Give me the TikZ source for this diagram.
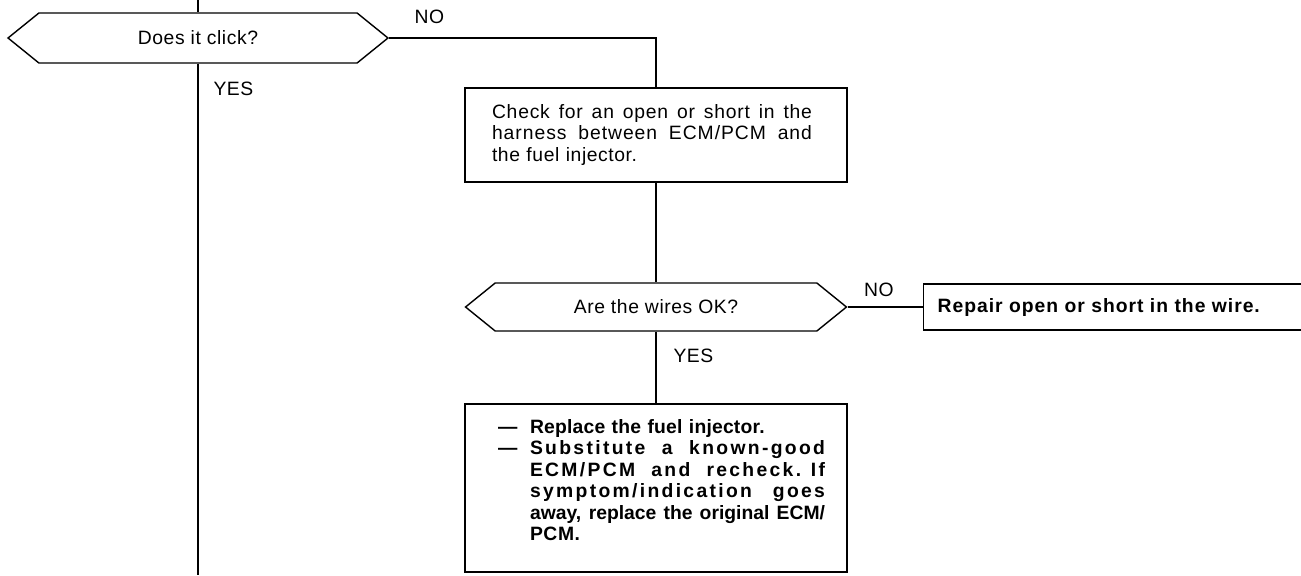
\documentclass[tikz,border=0pt]{standalone}
\usepackage{fontspec}
\setmainfont{Liberation Sans}[LetterSpace=3]
\usetikzlibrary{shapes.symbols}
\newcommand{\spreadline}[3]{\makebox[#1][s]{\addfontfeature{LetterSpace=#2}\spaceskip=\fontdimen2\font plus 1fill\relax #3}}

\begin{document}
\begin{tikzpicture}[x=0.02cm, y=-0.02cm, line width=0.6pt, font=\fontsize{11}{12.2}\selectfont,
  query/.style={draw, line width=0.8pt, signal, signal to=west and east, signal pointer angle=78, inner sep=0pt, minimum width=7.6cm, minimum height=1cm, fill=white},
  stepbox/.style={draw, line width=0.8pt, rectangle, inner sep=0pt, fill=white},
  answer/.style={inner sep=0pt}]
\useasboundingbox (0,0) rectangle (1301,575);
\coordinate (top) at (198,0);
\coordinate (end) at (198,575);
\node[query] (click) at (198,38) {Does it click?};
\node[stepbox, minimum width=7.64cm, minimum height=1.88cm, text width=6.56cm] (harness) at (656,135) {%
\spreadline{6.4cm}{4}{Check for an open or short in the}\\
\spreadline{6.4cm}{5}{harness between ECM/PCM and}\\
the fuel injector.};
\node[query, minimum width=7.62cm, minimum height=0.96cm] (wires) at (656,307) {Are the wires OK?};
\node[stepbox, anchor=west, minimum height=0.92cm, inner xsep=0.28cm, text width=7.6cm, align=left] (repair) at (923,307) {\bfseries\addfontfeature{LetterSpace=5}Repair open or short in the wire.};
\node[stepbox, minimum width=7.64cm, minimum height=3.36cm, text width=6.76cm] (replace) at (656,488) {\bfseries
{\addfontfeature{LetterSpace=1}\hspace*{0.22cm}\makebox[0.64cm][l]{—}Replace the fuel injector.}\\
\hspace*{0.22cm}\makebox[0.64cm][l]{—}\parbox[t]{5.9cm}{%
\spreadline{5.9cm}{12}{Substitute a known-good}\\
\spreadline{5.9cm}{12}{ECM/PCM and recheck. If}\\
\spreadline{5.9cm}{12}{symptom/indication goes}\\
\spreadline{5.9cm}{0}{away, replace the original ECM/}\\
PCM.\rule[-0.32cm]{0pt}{0pt}}};
\draw (top) -- (click.north);
\draw (click.south) node[answer, anchor=north west, xshift=0.3cm, yshift=-0.36cm] {YES} -- (end);
\draw (click.east) node[answer, anchor=south west, xshift=0.5cm, yshift=0.28cm] {NO} -| (harness.north);
\draw (harness.south) -- (wires.north);
\draw (wires.east) node[answer, anchor=south west, xshift=0.32cm, yshift=0.2cm] {NO} -- (repair.west);
\draw (wires.south) node[answer, anchor=north west, xshift=0.34cm, yshift=-0.34cm] {YES} -- (replace.north);
\end{tikzpicture}
\end{document}
